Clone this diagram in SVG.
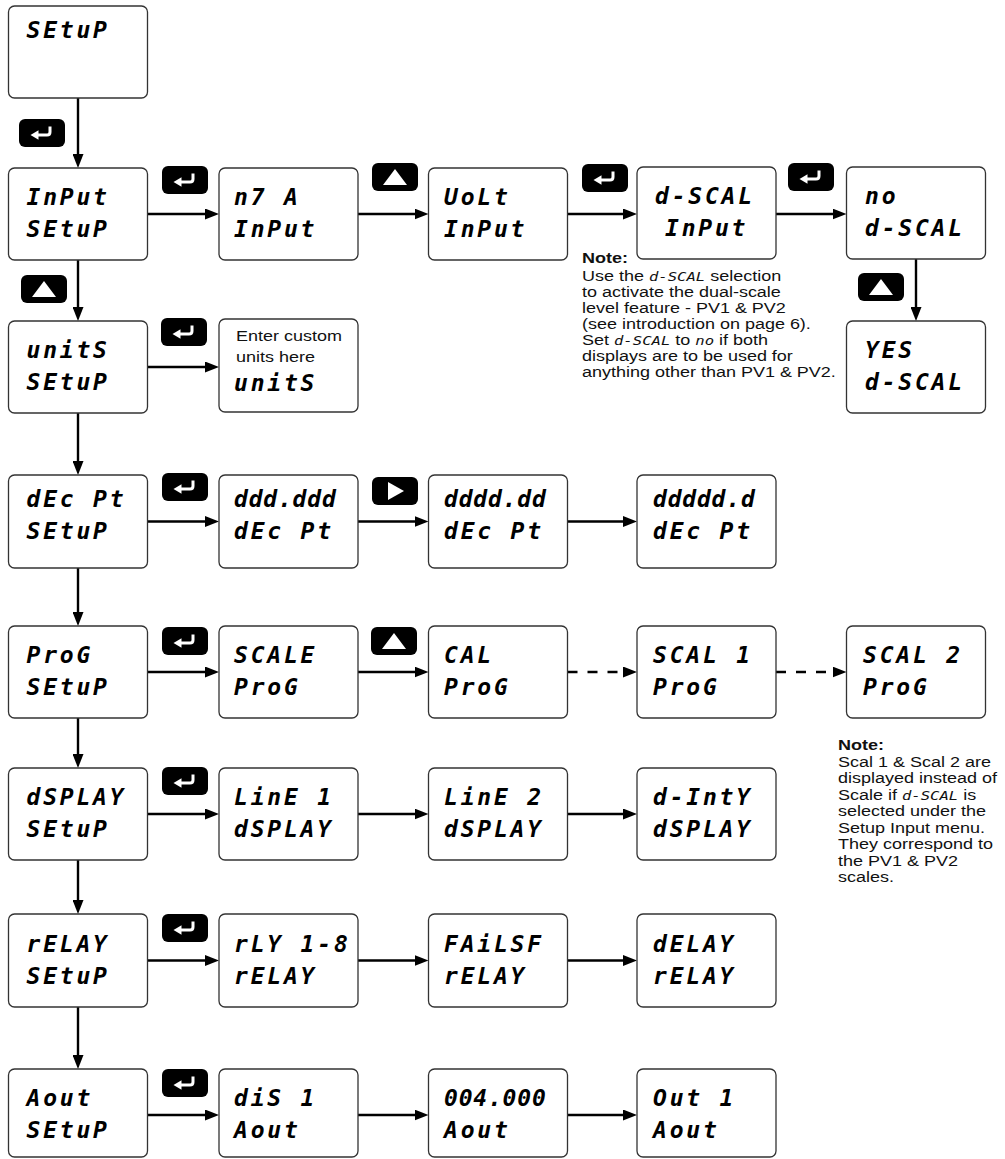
<svg xmlns="http://www.w3.org/2000/svg" xmlns:xlink="http://www.w3.org/1999/xlink" width="1005" height="1159" viewBox="0 0 1005 1159">
<style>
.box{fill:#fff;stroke:#333;stroke-width:1.3}
.seg{font-family:"DejaVu Sans Mono",monospace;font-weight:bold;font-style:oblique;font-size:23px;letter-spacing:2.8px;fill:#000}
.dot{letter-spacing:0.8px}
.note{font-family:"Liberation Sans",Arial,sans-serif;font-size:15px;fill:#111}
.nb{font-weight:bold}
.is{font-family:"DejaVu Sans Mono",monospace;font-style:oblique;font-size:13px}
.conn{stroke:#000;stroke-width:2.4;fill:none}
.dash{stroke-dasharray:10 10}
</style>
<defs>
<marker id="ah" markerWidth="14" markerHeight="11" refX="4" refY="5.5" orient="auto" markerUnits="userSpaceOnUse"><path d="M0,0 L14,5.5 L0,11 z" fill="#000"/></marker>
<symbol id="b-enter" viewBox="0 0 46 28"><rect width="46" height="28" rx="6" fill="#000"/><path d="M31,7.5 V13 Q31,16 28,16 H18" fill="none" stroke="#fff" stroke-width="3"/><path d="M11.5,16 L19.5,11.2 L19.5,20.8 z" fill="#fff"/></symbol>
<symbol id="b-up" viewBox="0 0 46 28"><rect width="46" height="28" rx="6" fill="#000"/><path d="M23,6 L35,22 L11,22 z" fill="#fff"/></symbol>
<symbol id="b-right" viewBox="0 0 46 28"><rect width="46" height="28" rx="6" fill="#000"/><path d="M16,5 L32,14 L16,23 z" fill="#fff"/></symbol>
</defs>
<rect width="1005" height="1159" fill="#fff"/>

<g id="connectors">
<line class="conn" x1="78" y1="98" x2="78" y2="158" marker-end="url(#ah)"/>
<line class="conn" x1="78" y1="260" x2="78" y2="311" marker-end="url(#ah)"/>
<line class="conn" x1="78" y1="413" x2="78" y2="465" marker-end="url(#ah)"/>
<line class="conn" x1="78" y1="568" x2="78" y2="616" marker-end="url(#ah)"/>
<line class="conn" x1="78" y1="718" x2="78" y2="758" marker-end="url(#ah)"/>
<line class="conn" x1="78" y1="860" x2="78" y2="904" marker-end="url(#ah)"/>
<line class="conn" x1="78" y1="1007" x2="78" y2="1059" marker-end="url(#ah)"/>
<line class="conn" x1="916" y1="259" x2="916" y2="311" marker-end="url(#ah)"/>

<line class="conn" x1="147.5" y1="214" x2="209" y2="214" marker-end="url(#ah)"/>
<line class="conn" x1="358" y1="214" x2="418.5" y2="214" marker-end="url(#ah)"/>
<line class="conn" x1="567.5" y1="214" x2="627" y2="214" marker-end="url(#ah)"/>
<line class="conn" x1="776" y1="214" x2="836.5" y2="214" marker-end="url(#ah)"/>

<line class="conn" x1="147.5" y1="367" x2="209" y2="367" marker-end="url(#ah)"/>

<line class="conn" x1="147.5" y1="521.5" x2="209" y2="521.5" marker-end="url(#ah)"/>
<line class="conn" x1="358" y1="521.5" x2="418.5" y2="521.5" marker-end="url(#ah)"/>
<line class="conn" x1="567.5" y1="521.5" x2="627" y2="521.5" marker-end="url(#ah)"/>

<line class="conn" x1="147.5" y1="672" x2="209" y2="672" marker-end="url(#ah)"/>
<line class="conn" x1="358" y1="672" x2="418.5" y2="672" marker-end="url(#ah)"/>
<line class="conn dash" x1="567.5" y1="672" x2="627" y2="672" marker-end="url(#ah)"/>
<line class="conn dash" x1="776" y1="672" x2="836.5" y2="672" marker-end="url(#ah)"/>

<line class="conn" x1="147.5" y1="814" x2="209" y2="814" marker-end="url(#ah)"/>
<line class="conn" x1="358" y1="814" x2="418.5" y2="814" marker-end="url(#ah)"/>
<line class="conn" x1="567.5" y1="814" x2="627" y2="814" marker-end="url(#ah)"/>

<line class="conn" x1="147.5" y1="960.5" x2="209" y2="960.5" marker-end="url(#ah)"/>
<line class="conn" x1="358" y1="960.5" x2="418.5" y2="960.5" marker-end="url(#ah)"/>
<line class="conn" x1="567.5" y1="960.5" x2="627" y2="960.5" marker-end="url(#ah)"/>

<line class="conn" x1="147.5" y1="1115" x2="209" y2="1115" marker-end="url(#ah)"/>
<line class="conn" x1="358" y1="1115" x2="418.5" y2="1115" marker-end="url(#ah)"/>
<line class="conn" x1="567.5" y1="1115" x2="627" y2="1115" marker-end="url(#ah)"/>
</g>

<g id="buttons">
<use xlink:href="#b-enter" x="19" y="119" width="46" height="28"/>
<use xlink:href="#b-enter" x="162" y="166" width="46" height="28"/>
<use xlink:href="#b-up" x="372" y="163" width="46" height="28"/>
<use xlink:href="#b-enter" x="582" y="164" width="46" height="28"/>
<use xlink:href="#b-enter" x="788" y="163" width="46" height="28"/>
<use xlink:href="#b-up" x="858" y="273" width="46" height="28"/>
<use xlink:href="#b-up" x="21" y="275" width="46" height="28"/>
<use xlink:href="#b-enter" x="161" y="318" width="46" height="28"/>
<use xlink:href="#b-enter" x="162" y="473" width="46" height="28"/>
<use xlink:href="#b-right" x="372" y="477" width="46" height="28"/>
<use xlink:href="#b-enter" x="162" y="627" width="46" height="28"/>
<use xlink:href="#b-up" x="371" y="627" width="46" height="28"/>
<use xlink:href="#b-enter" x="162" y="767" width="46" height="28"/>
<use xlink:href="#b-enter" x="162" y="914" width="46" height="28"/>
<use xlink:href="#b-enter" x="162" y="1069" width="46" height="28"/>
</g>

<g id="n-setup"><rect class="box" x="8.5" y="6" width="139" height="92" rx="6"/><text class="seg" x="26.5" y="38">SEtuP</text></g>

<g id="n-input-setup"><rect class="box" x="8.5" y="168" width="139" height="92" rx="6"/><text class="seg" x="26.5" y="205">InPut</text><text class="seg" x="26.5" y="237">SEtuP</text></g>
<g id="n-ma-input"><rect class="box" x="219" y="168" width="139" height="92" rx="6"/><text class="seg" x="234" y="205">n7 A</text><text class="seg" x="234" y="237">InPut</text></g>
<g id="n-volt-input"><rect class="box" x="428.5" y="168" width="139" height="92" rx="6"/><text class="seg" x="444" y="205">UoLt</text><text class="seg" x="444" y="237">InPut</text></g>
<g id="n-dscal-input"><rect class="box" x="637" y="167" width="139" height="92" rx="6"/><text class="seg" x="655" y="204">d-SCAL</text><text class="seg" x="665" y="236">InPut</text></g>
<g id="n-no-dscal"><rect class="box" x="846.5" y="167" width="139" height="92" rx="6"/><text class="seg" x="865" y="204">no</text><text class="seg" x="865" y="236">d-SCAL</text></g>
<g id="n-yes-dscal"><rect class="box" x="846.5" y="321" width="139" height="92" rx="6"/><text class="seg" x="865" y="358">YES</text><text class="seg" x="865" y="390">d-SCAL</text></g>

<g id="n-units-setup"><rect class="box" x="8.5" y="321" width="139" height="92" rx="6"/><text class="seg" x="26.5" y="358">unitS</text><text class="seg" x="26.5" y="390">SEtuP</text></g>
<g id="n-units-custom"><rect class="box" x="219" y="319" width="139" height="93" rx="6"/>
<g class="note" transform="translate(236 0) scale(1.2 1)"><text x="0" y="341">Enter custom</text><text x="0" y="362">units here</text></g>
<text class="seg" x="234" y="391">unitS</text></g>

<g id="n-decpt-setup"><rect class="box" x="8.5" y="475" width="139" height="93" rx="6"/><text class="seg" x="26.5" y="507">dEc Pt</text><text class="seg" x="26.5" y="539">SEtuP</text></g>
<g id="n-dec3"><rect class="box" x="219" y="475" width="139" height="93" rx="6"/><text class="seg dot" x="234" y="507">ddd.ddd</text><text class="seg" x="234" y="539">dEc Pt</text></g>
<g id="n-dec2"><rect class="box" x="428.5" y="475" width="139" height="93" rx="6"/><text class="seg dot" x="444" y="507">dddd.dd</text><text class="seg" x="444" y="539">dEc Pt</text></g>
<g id="n-dec1"><rect class="box" x="637" y="475" width="139" height="93" rx="6"/><text class="seg dot" x="653" y="507">ddddd.d</text><text class="seg" x="653" y="539">dEc Pt</text></g>

<g id="n-prog-setup"><rect class="box" x="8.5" y="626" width="139" height="92" rx="6"/><text class="seg" x="26.5" y="663">ProG</text><text class="seg" x="26.5" y="695">SEtuP</text></g>
<g id="n-scale-prog"><rect class="box" x="219" y="626" width="139" height="92" rx="6"/><text class="seg" x="234" y="663">SCALE</text><text class="seg" x="234" y="695">ProG</text></g>
<g id="n-cal-prog"><rect class="box" x="428.5" y="626" width="139" height="92" rx="6"/><text class="seg" x="444" y="663">CAL</text><text class="seg" x="444" y="695">ProG</text></g>
<g id="n-scal1-prog"><rect class="box" x="637" y="626" width="139" height="92" rx="6"/><text class="seg" x="653" y="663">SCAL 1</text><text class="seg" x="653" y="695">ProG</text></g>
<g id="n-scal2-prog"><rect class="box" x="846.5" y="626" width="139" height="92" rx="6"/><text class="seg" x="863" y="663">SCAL 2</text><text class="seg" x="863" y="695">ProG</text></g>

<g id="n-display-setup"><rect class="box" x="8.5" y="768" width="139" height="92" rx="6"/><text class="seg" x="26.5" y="805">dSPLAY</text><text class="seg" x="26.5" y="837">SEtuP</text></g>
<g id="n-line1"><rect class="box" x="219" y="768" width="139" height="92" rx="6"/><text class="seg" x="234" y="805">LinE 1</text><text class="seg" x="234" y="837">dSPLAY</text></g>
<g id="n-line2"><rect class="box" x="428.5" y="768" width="139" height="92" rx="6"/><text class="seg" x="444" y="805">LinE 2</text><text class="seg" x="444" y="837">dSPLAY</text></g>
<g id="n-dinty"><rect class="box" x="637" y="768" width="139" height="92" rx="6"/><text class="seg" x="653" y="805">d-IntY</text><text class="seg" x="653" y="837">dSPLAY</text></g>

<g id="n-relay-setup"><rect class="box" x="8.5" y="914" width="139" height="93" rx="6"/><text class="seg" x="26.5" y="952">rELAY</text><text class="seg" x="26.5" y="984">SEtuP</text></g>
<g id="n-rly18"><rect class="box" x="219" y="914" width="139" height="93" rx="6"/><text class="seg" x="234" y="952">rLY 1-8</text><text class="seg" x="234" y="984">rELAY</text></g>
<g id="n-failsf"><rect class="box" x="428.5" y="914" width="139" height="93" rx="6"/><text class="seg" x="444" y="952">FAiLSF</text><text class="seg" x="444" y="984">rELAY</text></g>
<g id="n-delay"><rect class="box" x="637" y="914" width="139" height="93" rx="6"/><text class="seg" x="653" y="952">dELAY</text><text class="seg" x="653" y="984">rELAY</text></g>

<g id="n-aout-setup"><rect class="box" x="8.5" y="1069" width="139" height="88" rx="6"/><text class="seg" x="26.5" y="1106">Aout</text><text class="seg" x="26.5" y="1138">SEtuP</text></g>
<g id="n-dis1"><rect class="box" x="219" y="1069" width="139" height="88" rx="6"/><text class="seg" x="234" y="1106">diS 1</text><text class="seg" x="234" y="1138">Aout</text></g>
<g id="n-4ma"><rect class="box" x="428.5" y="1069" width="139" height="88" rx="6"/><text class="seg dot" x="444" y="1106">004.000</text><text class="seg" x="444" y="1138">Aout</text></g>
<g id="n-out1"><rect class="box" x="637" y="1069" width="139" height="88" rx="6"/><text class="seg" x="653" y="1106">Out 1</text><text class="seg" x="653" y="1138">Aout</text></g>

<g id="note-dscal" class="note" transform="translate(582 0) scale(1.2 1)">
<text class="nb" x="0" y="263">Note:</text>
<text x="0" y="281">Use the <tspan class="is">d-SCAL</tspan> selection</text>
<text x="0" y="297">to activate the dual-scale</text>
<text x="0" y="313">level feature - PV1 &amp; PV2</text>
<text x="0" y="329">(see introduction on page 6).</text>
<text x="0" y="345">Set <tspan class="is">d-SCAL</tspan> to <tspan class="is">no</tspan> if both</text>
<text x="0" y="361">displays are to be used for</text>
<text x="0" y="377">anything other than PV1 &amp; PV2.</text>
</g>

<g id="note-scal" class="note" transform="translate(838 0) scale(1.2 1)">
<text class="nb" x="0" y="750">Note:</text>
<text x="0" y="767">Scal 1 &amp; Scal 2 are</text>
<text x="0" y="783.5">displayed instead of</text>
<text x="0" y="800">Scale if <tspan class="is">d-SCAL</tspan> is</text>
<text x="0" y="816.5">selected under the</text>
<text x="0" y="833">Setup Input menu.</text>
<text x="0" y="849.5">They correspond to</text>
<text x="0" y="866">the PV1 &amp; PV2</text>
<text x="0" y="882.5">scales.</text>
</g>
</svg>
